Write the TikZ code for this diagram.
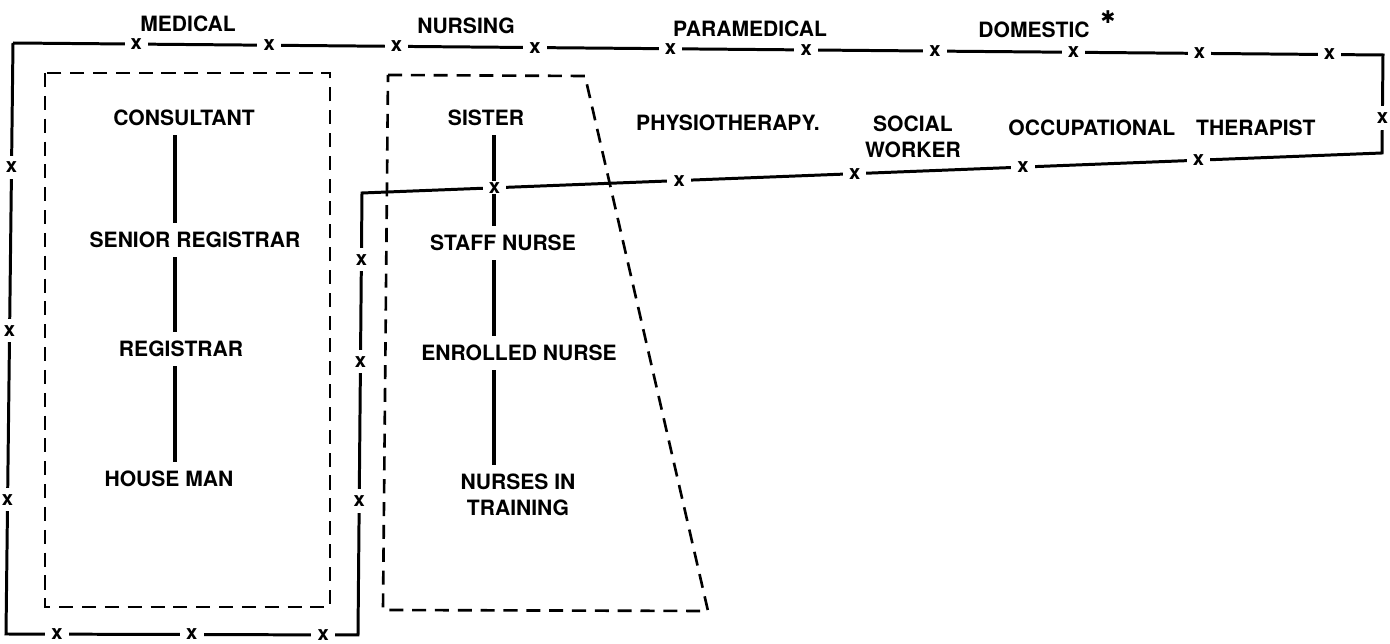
\documentclass[tikz,border=0pt]{standalone}
\usepackage{fontspec}
\setmainfont{TeX Gyre Heros}
\newfontfamily\symfont{DejaVu Sans}
\usetikzlibrary{positioning}
\tikzset{
  grp/.style={font=\bfseries\fontsize{12}{15}\selectfont, inner sep=1pt},
  post/.style={font=\bfseries\fontsize{12}{15}\selectfont, align=center, inner sep=5pt},
  xmark/.style={fill=white, font=\bfseries\fontsize{11.5}{12}\selectfont, inner xsep=3.5pt, inner ysep=0.5pt},
  vmark/.style={xmark, inner xsep=1pt, inner ysep=3.5pt},
  tie/.style={line width=2pt},
  loop/.style={line width=1.7pt},
  boundary/.style={line width=1.5pt, dash pattern=on 8pt off 5pt},
}
\begin{document}
\begin{tikzpicture}[x=0.02cm, y=-0.02cm]
        \useasboundingbox (0,0) rectangle (1390,644);

        % group headings
        \node[grp] (medical) at (188,24) {MEDICAL};
        \node[grp] (nursing) at (466,26) {NURSING};
        \node[grp] (paramedical) at (750,29) {PARAMEDICAL};
        \node[grp] (domestic) at (1034,30) {DOMESTIC};
        \node[font=\symfont\fontsize{10}{10}\selectfont, inner sep=0pt] (asterisk) at (1108,17) {✱};

        % medical
        \node[post] (consultant) at (184,118) {CONSULTANT};
        \node[post] (senreg) at (195,240) {SENIOR REGISTRAR};
        \node[post] (registrar) at (181,349) {REGISTRAR};
        \node[post] (houseman) at (169,479) {HOUSE MAN};

        % nursing
        \node[post] (sister) at (486,118) {SISTER};
        \node[post] (staffnurse) at (503,243) {STAFF NURSE};
        \node[post] (enrolled) at (519,353) {ENROLLED NURSE};
        \node[post] (training) at (518,495) {NURSES IN\\TRAINING};

        % paramedical
        \node[post] (physio) at (728,123) {PHYSIOTHERAPY.};
        \node[post] (social) at (913,137) {SOCIAL\\WORKER};
        \node[post] (occupational) at (1162,128) {OCCUPATIONAL\quad THERAPIST};

        \coordinate (medcol) at (175,0);
        \coordinate (nurcol) at (494,0);

        \draw[boundary] (45,73) rectangle (330,607);
        \draw[boundary] (388,75) -- (585,76) -- (708,611) -- (383,610) -- cycle;

        \draw[tie] (consultant.south -| medcol) -- (senreg.north -| medcol);
        \draw[tie] (senreg.south -| medcol) -- (registrar.north -| medcol);
        \draw[tie] (registrar.south -| medcol) -- (houseman.north -| medcol);

        \draw[tie] (sister.south -| nurcol) -- (staffnurse.north -| nurcol);
        \draw[tie] (staffnurse.south -| nurcol) -- (enrolled.north -| nurcol);
        \draw[tie] (enrolled.south -| nurcol) -- (training.north -| nurcol);

        % the ward team
        \coordinate (tl) at (13,43);
        \coordinate (tr) at (1383,55);
        \coordinate (br) at (1382,153);
        \coordinate (ni) at (362,193);
        \coordinate (bi) at (358,635);
        \coordinate (bl) at (6,634);

        \draw[loop] (tl)
          -- node[xmark,pos=0.090]{x} node[xmark,pos=0.187]{x} node[xmark,pos=0.280]{x}
             node[xmark,pos=0.381]{x} node[xmark,pos=0.480]{x} node[xmark,pos=0.579]{x}
             node[xmark,pos=0.673]{x} node[xmark,pos=0.774]{x} node[xmark,pos=0.866]{x}
             node[xmark,pos=0.961]{x} (tr)
          -- node[vmark,pos=0.643]{x} (br)
          -- node[xmark,pos=0.180]{x} node[xmark,pos=0.352]{x} node[xmark,pos=0.517]{x}
             node[xmark,pos=0.689]{x} node[xmark,pos=0.870]{x} (ni)
          -- node[vmark,pos=0.151]{x} node[vmark,pos=0.382]{x} node[vmark,pos=0.697]{x} (bi)
          -- node[xmark,pos=0.099]{x} node[xmark,pos=0.472]{x} node[xmark,pos=0.855]{x} (bl)
          -- node[vmark,pos=0.227]{x} node[vmark,pos=0.513]{x} node[vmark,pos=0.790]{x} (tl);

      \end{tikzpicture}
\end{document}
